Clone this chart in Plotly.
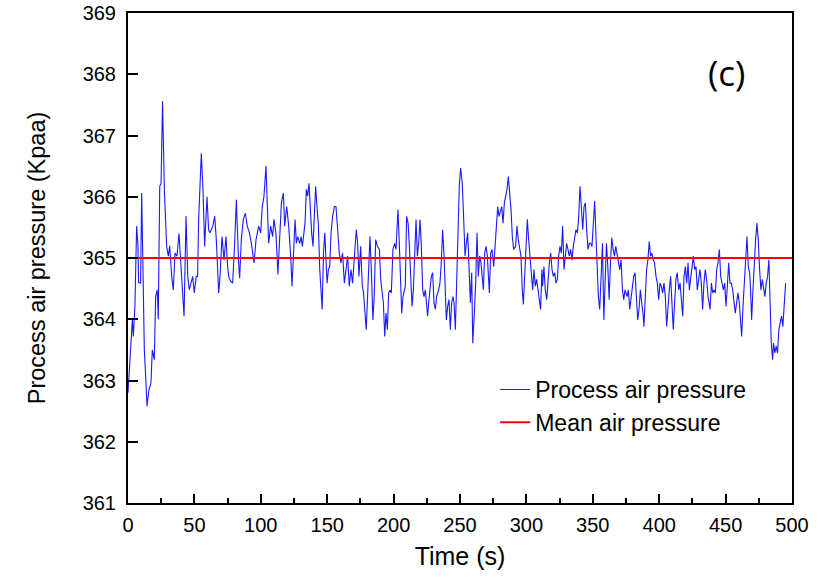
import plotly.graph_objects as go

time_s = [0, 1, 2.5, 3.3, 4, 5.2, 6.5, 7.5, 8, 9.5, 10.3, 11.3, 12.3, 13.3, 14.3, 15.8, 17.3, 18.3, 19.8, 20.8,
          22, 22.8, 23.9, 24.9, 26, 27.4, 29.1, 30.4, 31.4, 32.9, 34.1, 35.4, 36.9, 38.4, 40, 41, 42.2, 43.7, 45, 46.2,
          47.4, 48.7, 49.9, 51.4, 52.4, 53.2, 55.2, 56.5, 57.7, 59.5, 60.7, 61.7, 63.8, 65.3, 66.5, 68.3, 69.3, 70.8, 72.3, 73.8,
          74.8, 75.8, 77.3, 78.8, 80.3, 81.6, 83.3, 84.1, 85.3, 86.8, 88.4, 89.8, 91.4, 92.9, 94.9, 96.4, 98.4, 99.9, 101.1, 102.4,
          103.9, 104.9, 105.9, 107.4, 108.9, 109.9, 111.4, 112.9, 114.4, 115.5, 117, 118, 119.5, 121, 122.5, 123.5, 124.8, 125.8, 126.8, 127.8,
          129.3, 130.3, 131.3, 132.3, 133.3, 134.3, 135.3, 136.3, 137.3, 138.3, 139.3, 140.3, 141.3, 142.3, 143.3, 144.4, 145.4, 146.2, 147.2, 148.2,
          149.2, 149.9, 150.9, 151.9, 152.9, 154.1, 155.4, 156.6, 157.9, 159.1, 160.4, 161.6, 162.9, 164.1, 165.4, 166.6, 167.9, 169.1, 170.4, 171.9,
          172.9, 173.9, 175.2, 176.4, 177.4, 178.4, 179.4, 180.4, 182.2, 183.4, 184.4, 185.4, 186.5, 187.8, 189.3, 190.3, 191.3, 192.3, 193.3, 194.3,
          195.3, 196.3, 197.3, 198.3, 199.5, 200.8, 201.8, 202.8, 203.3, 204.3, 205.3, 206.1, 207.1, 208.1, 208.8, 209.8, 210.9, 211.9, 212.9, 213.9,
          214.9, 215.9, 216.9, 217.9, 218.9, 219.9, 220.9, 221.9, 222.9, 223.9, 224.9, 225.6, 226.4, 227.4, 228.4, 229.4, 230.4, 231.4, 232.4, 233.9,
          234.9, 235.9, 236.9, 237.9, 238.9, 239.7, 240.7, 241.7, 242.7, 243.7, 244.7, 245.5, 246.5, 247.5, 248.5, 249.5, 250.5, 251.7, 252.7, 253.8,
          254.8, 255.8, 256.8, 257.8, 258.8, 259.6, 260.8, 261.8, 262.8, 263.8, 264.8, 265.8, 266.9, 267.6, 268.6, 269.6, 270.6, 271.4, 272.1, 273.1,
          274.1, 275.4, 276.4, 277.4, 278.4, 279.4, 280.4, 281.4, 282.4, 283.4, 284.4, 285.4, 286.4, 287.4, 288.4, 289.4, 290.4, 291.9, 292.9, 293.9,
          294.9, 295.9, 296.9, 297.7, 298.7, 299.7, 300.7, 301.7, 302.7, 303.7, 304.7, 305.7, 306.7, 307.7, 308.7, 309.7, 310.7, 311.7, 312.2, 313.2,
          314.2, 315.3, 316.3, 317.3, 318.3, 319.3, 320.3, 321.3, 322.3, 323.3, 324.3, 325.3, 326.3, 327.3, 328.3, 329.3, 330.3, 331.3, 332.3, 333.3,
          334.3, 335.3, 336.4, 337.3, 338.4, 339.4, 340.4, 341.4, 342.4, 343.4, 344.4, 345.4, 346.4, 347.4, 348.4, 349.4, 350.4, 351.4, 352.4, 353.4,
          354.2, 355.2, 356.3, 357.3, 358.3, 359.3, 360.3, 361.3, 362.3, 363.3, 364.3, 365.3, 366.3, 367.3, 368.3, 369.3, 370.3, 371.3, 372.3, 373.3,
          374.3, 375.8, 376.8, 377.8, 378.8, 379.8, 380.8, 381.8, 382.8, 383.8, 384.8, 385.8, 386.8, 387.8, 388.5, 389.5, 390.5, 391.5, 392.5, 393.5,
          394.5, 395.5, 396.5, 397.6, 398.6, 399.6, 400.6, 401.6, 402.6, 403.6, 404.6, 405.6, 406.6, 407.6, 408.6, 409.6, 410.6, 411.6, 412.6, 413.6,
          414.7, 415.7, 416.7, 417.7, 418.7, 419.7, 420.7, 421.7, 422.7, 423.7, 424.7, 425.7, 426.7, 427.7, 428.7, 429.7, 430.7, 431.7, 432.7, 433.7,
          434.7, 435.7, 436.8, 438.3, 439.3, 440.3, 441.3, 442.3, 443.3, 444.3, 445.3, 446.3, 447.3, 448.3, 449.3, 450.3, 451.3, 452.3, 453.3, 454.3,
          455.3, 456.3, 457.3, 458.3, 459.3, 460.3, 461.3, 462.1, 463.1, 464.1, 465.1, 466.1, 467.1, 468.1, 468.8, 469.6, 470.6, 471.6, 472.6, 473.6,
          474.6, 475.6, 476.6, 477.6, 478.6, 479.6, 480.6, 481.6, 482.6, 483.6, 484.4, 485.4, 486.1, 487.1, 488.1, 489.1, 490.1, 491.1, 492.1, 493.1,
          494.1, 495.2]

pressure_kpaa = [362.8, 363.2, 363.8, 364.0, 363.72, 364.2, 365.52, 365.2, 364.6, 364.59, 366.06, 364.6, 363.5, 363.07, 362.58, 362.85, 362.96, 363.5, 363.34, 364.37,
                 364.48, 364.0, 366.17, 366.22, 367.56, 366.1, 365.19, 365.03, 365.2, 364.7, 364.48, 365.08, 365.03, 365.4, 364.81, 364.37, 364.05, 365.68, 364.7, 364.48,
                 364.59, 364.7, 364.43, 364.7, 364.7, 365.63, 366.71, 366.1, 365.19, 366.0, 365.46, 365.41, 365.52, 365.68, 365.3, 364.43, 364.7, 365.35, 364.97, 365.35,
                 364.92, 364.7, 364.62, 364.59, 365.24, 365.95, 364.92, 364.67, 365.3, 365.63, 365.73, 365.52, 365.41, 365.24, 364.92, 365.3, 365.52, 365.41, 365.84, 366.01,
                 366.5, 365.95, 365.24, 365.52, 365.35, 365.63, 365.41, 364.73, 365.57, 365.9, 366.06, 365.52, 365.84, 365.52, 365.03, 364.54, 365.14, 365.63, 365.24, 365.35,
                 365.24, 365.35, 365.19, 365.41, 365.57, 366.12, 366.01, 366.22, 365.79, 365.41, 365.19, 365.79, 366.17, 365.84, 365.57, 364.81, 364.37, 364.16, 365.08, 365.41,
                 364.92, 364.59, 364.81, 364.86, 365.41, 365.68, 365.84, 365.84, 365.46, 365.08, 364.92, 365.08, 364.59, 364.86, 365.03, 364.54, 364.81, 364.59, 365.03, 365.46,
                 365.24, 364.70, 365.19, 364.54, 364.43, 364.10, 363.83, 364.37, 365.35, 364.70, 363.99, 364.37, 365.30, 365.19, 365.14, 364.65, 364.48, 364.27, 363.72, 364.10,
                 363.83, 364.43, 364.48, 364.43, 365.14, 365.24, 365.14, 365.57, 365.79, 365.24, 364.54, 364.10, 364.37, 364.48, 364.54, 365.68, 365.57, 365.19, 364.76, 364.21,
                 364.48, 365.14, 365.63, 365.03, 365.24, 365.63, 365.19, 364.48, 364.37, 364.48, 364.27, 364.05, 364.27, 364.48, 364.70, 364.76, 364.27, 364.16, 364.37, 364.48,
                 364.59, 364.92, 365.46, 365.08, 364.37, 363.99, 364.21, 364.32, 363.83, 364.27, 364.37, 364.27, 363.83, 364.76, 365.68, 366.2, 366.47, 366.22, 365.68, 365.03,
                 365.24, 365.41, 364.86, 364.27, 364.76, 363.61, 364.10, 364.59, 365.41, 364.70, 365.03, 364.92, 364.65, 364.48, 365.08, 365.19, 365.03, 364.65, 364.43, 365.08,
                 365.14, 364.86, 365.19, 365.68, 365.84, 365.68, 365.79, 365.84, 365.57, 365.90, 366.01, 366.12, 366.33, 366.06, 365.79, 365.35, 365.14, 365.19, 365.52, 365.30,
                 365.19, 365.03, 364.48, 364.24, 364.70, 365.24, 365.63, 365.30, 365.03, 364.70, 364.48, 364.81, 364.54, 364.65, 364.48, 364.37, 364.16, 364.81, 364.54, 364.86,
                 364.48, 364.32, 364.70, 364.92, 365.08, 364.81, 364.70, 364.76, 364.59, 364.65, 365.03, 365.19, 365.08, 365.52, 364.81, 365.03, 365.24, 365.14, 365.03, 365.14,
                 364.97, 365.19, 365.35, 365.46, 365.41, 365.68, 366.17, 365.79, 365.46, 365.84, 365.90, 365.46, 365.14, 365.24, 365.24, 365.19, 365.63, 365.93, 365.35, 364.70,
                 364.37, 364.16, 364.86, 365.24, 363.99, 364.70, 365.24, 364.86, 364.32, 364.92, 365.33, 365.14, 365.03, 365.19, 365.08, 364.92, 364.81, 364.97, 364.48, 364.32,
                 364.48, 364.37, 364.48, 364.16, 364.37, 364.59, 364.70, 364.76, 364.37, 363.99, 364.16, 364.48, 364.27, 364.10, 363.88, 364.48, 364.81, 364.97, 365.27, 365.03,
                 365.08, 364.97, 364.92, 364.70, 364.59, 364.32, 364.59, 364.54, 364.43, 364.59, 364.37, 363.88, 364.27, 364.48, 364.70, 364.27, 363.83, 364.27, 364.65, 364.76,
                 364.48, 364.59, 364.37, 364.05, 364.70, 364.86, 364.59, 364.92, 364.48, 364.70, 364.81, 365.03, 364.81, 364.86, 364.48, 364.70, 364.81, 364.59, 364.16, 364.59,
                 364.81, 364.65, 364.37, 364.16, 364.59, 364.43, 364.48, 364.43, 364.81, 364.92, 365.14, 364.70, 364.59, 364.48, 364.59, 364.21, 364.54, 364.92, 364.59, 364.59,
                 364.48, 364.27, 364.10, 364.27, 364.43, 364.27, 363.99, 363.72, 364.21, 364.59, 365.03, 365.35, 364.86, 364.76, 364.48, 363.99, 364.48, 365.03, 365.30, 365.57,
                 365.30, 364.81, 364.48, 364.65, 364.54, 364.37, 364.59, 364.70, 364.97, 364.21, 363.61, 363.34, 363.61, 363.45, 363.56, 363.45, 363.83, 363.94, 364.05, 363.88,
                 364.16, 364.59]

mean_time = [0, 500]
mean_pressure = [365.0, 365.0]

x_ticks = [0, 50, 100, 150, 200, 250, 300, 350, 400, 450, 500]
y_ticks = [361, 362, 363, 364, 365, 366, 367, 368, 369]

fig = go.Figure()
fig.add_trace(go.Scatter(x=time_s, y=pressure_kpaa, mode="lines",
                         line=dict(color="#1a1aff", width=1.1), name="Process air pressure"))
fig.add_trace(go.Scatter(x=mean_time, y=mean_pressure, mode="lines",
                         line=dict(color="#ff0000", width=2), name="Mean air pressure"))

font_main = "Liberation Sans, Arial, sans-serif"

fig.update_layout(
    width=822, height=580,
    margin=dict(l=128, r=30, t=13, b=77),
    paper_bgcolor="white", plot_bgcolor="white",
    font=dict(family=font_main, color="black", size=20),
    showlegend=True,
    legend=dict(x=0.553, y=0.2755, xanchor="left", yanchor="top",
                bgcolor="rgba(0,0,0,0)", font=dict(size=23, family=font_main),
                itemwidth=30, tracegroupgap=0),
    annotations=[dict(text="(c)", x=0.902, y=0.878, xref="paper", yref="paper",
                      xanchor="center", yanchor="middle",
                      showarrow=False, font=dict(size=35, family="Open Sans, sans-serif"))],
)
fig.update_xaxes(range=[0, 500], tickvals=x_ticks, ticks="inside", ticklen=9, tickwidth=1.5,
                 tickcolor="black", showline=True, linecolor="black", linewidth=2, mirror=True,
                 showgrid=False, zeroline=False, tickfont=dict(size=20), ticklabelstandoff=3,
                 automargin=False,
                 minor=dict(dtick=25, ticks="inside", ticklen=5, tickwidth=1.5, tickcolor="black"),
                 title=dict(text="Time (s)", font=dict(size=25), standoff=12))
fig.update_yaxes(range=[361, 369], tickvals=y_ticks, ticks="inside", ticklen=10, tickwidth=1.5,
                 tickcolor="black", showline=True, linecolor="black", linewidth=2, mirror=True,
                 showgrid=False, zeroline=False, tickfont=dict(size=20), ticklabelstandoff=6,
                 automargin=False,
                 title=dict(text="Process air pressure (Kpaa)", font=dict(size=23.5), standoff=30))

fig.write_html("out.html")
